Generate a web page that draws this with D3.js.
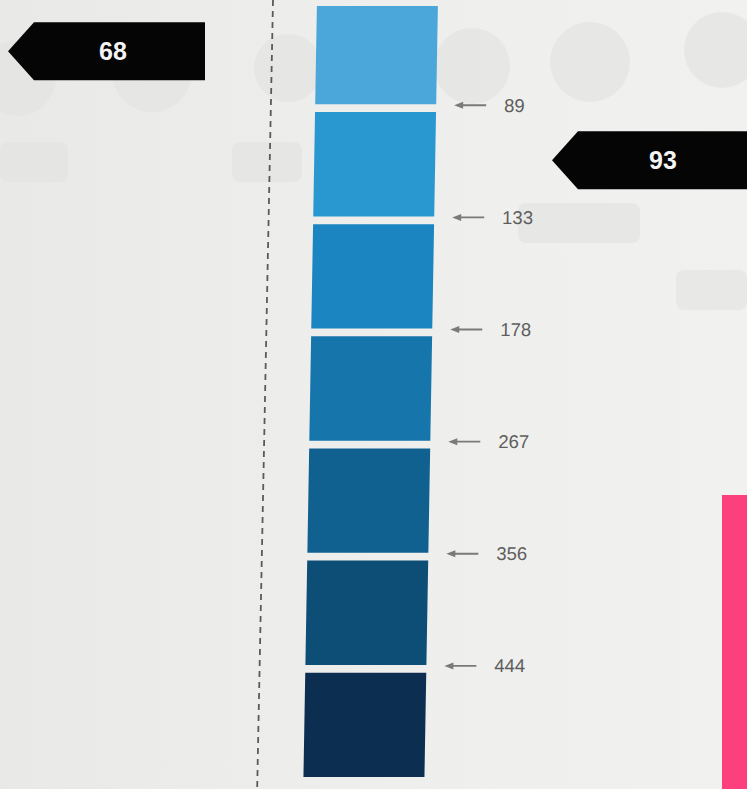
<!DOCTYPE html>
<html><head><meta charset="utf-8">
<script src="https://cdn.jsdelivr.net/npm/d3@7/dist/d3.min.js"></script>
<style>
html,body{margin:0;padding:0;background:#eeeeec;overflow:hidden}
svg{display:block}
</style></head>
<body>
<script>
// ---- data ----
const thresholds = [89, 133, 178, 267, 356, 444];
const binColors = ["#4ba7d9", "#2a98d0", "#1a85c0", "#1675ab", "#10618f", "#0d4e77", "#0c2f51"];
const tagValues = [68, 93];
const tagSides = ["left", "right"];

const W = 747, H = 789;
const svg = d3.select("body").append("svg").attr("width", W).attr("height", H);

// background with subtle photo tone
const grad = svg.append("defs").append("linearGradient").attr("id","bg").attr("x1","0").attr("x2","1");
grad.append("stop").attr("offset","0").attr("stop-color","#e9e9e7");
grad.append("stop").attr("offset","0.5").attr("stop-color","#eeeeec");
grad.append("stop").attr("offset","1").attr("stop-color","#f1f1ef");
svg.append("rect").attr("width",W).attr("height",H).attr("fill","url(#bg)");

// faint show-through shapes from the page
const ghost = svg.append("g").attr("fill","#e4e4e2").attr("opacity",0.7);
[[18,78,38],[152,72,40],[288,68,34],[472,66,38],[590,62,40],[722,50,38]].forEach(c=>
  ghost.append("circle").attr("cx",c[0]).attr("cy",c[1]).attr("r",c[2]));
[[0,142,68,40],[232,142,70,40],[518,203,122,40],[676,270,71,40]].forEach(r=>
  ghost.append("rect").attr("x",r[0]).attr("y",r[1]).attr("width",r[2]).attr("height",r[3]).attr("rx",8));

// bins scale
const bins = d3.range(thresholds.length + 1);
const barTop = 6;
const y = d3.scaleBand().domain(bins).range([0, 777]).paddingInner(0.07).paddingOuter(0);
const x0 = 317, bw = 121;

// dashed divider
svg.append("g").attr("transform","skewX(-1.15)")
  .append("line").attr("x1",273).attr("x2",273).attr("y1",0).attr("y2",H)
  .attr("stroke","#5a5a5a").attr("stroke-width",1.8).attr("stroke-dasharray","6,5");

const g = svg.append("g").attr("transform","skewX(-1)");

const yTop = d => Math.max(y(d), barTop);
const yBot = d => y(d) + y.bandwidth();

g.selectAll("rect.bin").data(bins).join("rect").attr("class","bin")
  .attr("x", x0).attr("y", yTop).attr("width", bw).attr("height", d => yBot(d) - yTop(d))
  .attr("fill", (d,i)=>binColors[i]);

const lab = g.selectAll("g.lab").data(thresholds).join("g").attr("class","lab")
  .attr("transform",(d,i)=>`translate(0,${yBot(i) + 1})`);
lab.append("line").attr("x1",461).attr("x2",488).attr("y1",0).attr("y2",0)
  .attr("stroke","#7a7a7a").attr("stroke-width",1.8);
lab.append("path").attr("d","M456,0 L465,-3.5 L465,3.5 Z").attr("fill","#7a7a7a");
lab.append("text").attr("x",506).attr("y",0).attr("dy","0.35em")
  .attr("font-family","Liberation Sans, Arial, sans-serif").attr("font-size",18.5)
  .attr("fill","#5e5e5e").text(d=>d);

// tags positioned at the band of their value
const tags = svg.selectAll("g.tag").data(tagValues).join("g").attr("class","tag");
tags.each(function(v,i){
  const b = d3.bisectRight(thresholds, v);
  const cy = (yTop(b) + yBot(b))/2 - 4;
  const h = 58, s = tagSides[i];
  const sel = d3.select(this);
  let x1, x2;
  if (s === "left") { x1 = 8; x2 = 205; } else { x1 = 552; x2 = 760; }
  sel.append("path")
    .attr("d", `M${x1},${cy} L${x1+26},${cy-h/2} L${x2},${cy-h/2} L${x2},${cy+h/2} L${x1+26},${cy+h/2} Z`)
    .attr("fill","#050505");
  const tx = s === "left" ? 113 : 663;
  sel.append("text").attr("x",tx).attr("y",cy).attr("dy","0.36em").attr("text-anchor","middle")
    .attr("font-family","Liberation Sans, Arial, sans-serif").attr("font-weight","bold")
    .attr("font-size",25).attr("fill","#f4f4f4").text(v);
});

// pink marker at right edge
svg.append("rect").attr("x",722).attr("y",495).attr("width",30).attr("height",300).attr("fill","#fc3f7d");
</script>
</body></html>
